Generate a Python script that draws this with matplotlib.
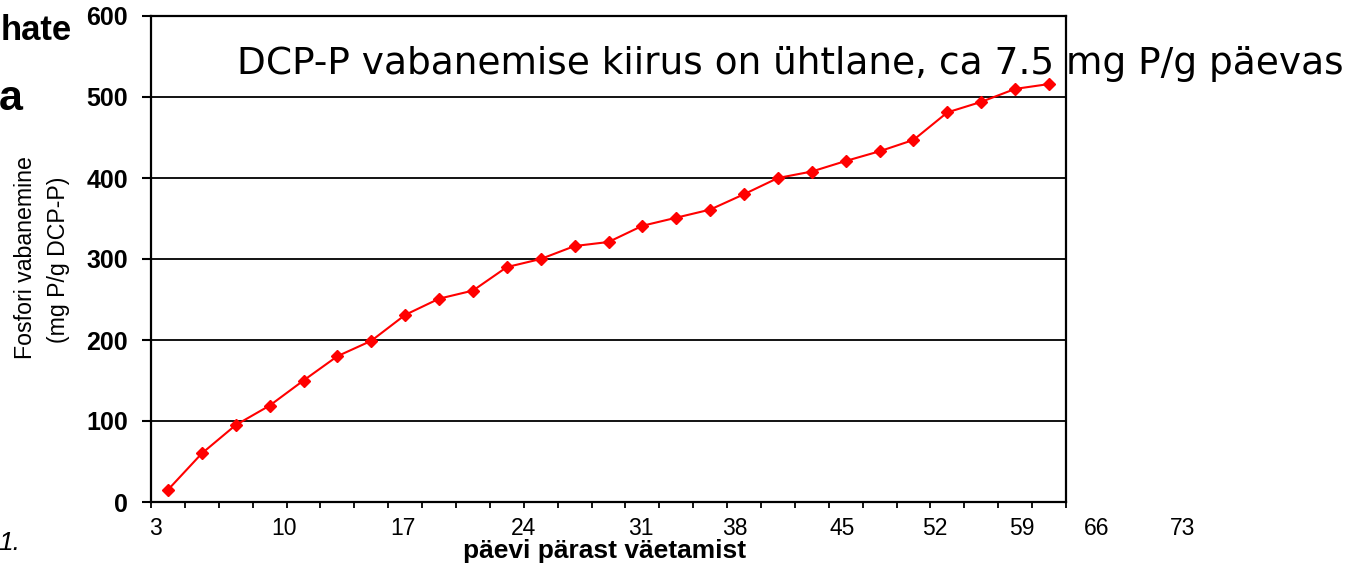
import matplotlib
matplotlib.use("Agg")
import matplotlib.pyplot as plt
import matplotlib.transforms as mtransforms
import numpy as np

# fosfori vabanemine (mg P/g DCP-P), one value per sampling
release = [15, 60, 95, 119, 150, 180, 199, 231, 251, 261,
           290, 300, 316, 321, 341, 351, 361, 380, 400,
           408, 421, 433, 447, 481, 494, 510, 516]
day_labels = ["3", "10", "17", "24", "31", "38", "45", "52", "59", "66", "73"]
y_ticks = [0, 100, 200, 300, 400, 500, 600]

# where the day labels sit, in category units (from the slide layout)
label_pos = [-0.38, 3.43, 6.92, 10.49, 13.95, 16.72, 19.91, 22.63, 25.20, 27.39, 29.93]

W, H = 1357, 567
fig = plt.figure(figsize=(W / 100, H / 100), dpi=100)
ax = fig.add_axes([151 / W, 1 - 502 / H, (1066 - 151) / W, (502 - 16) / H])

x = np.arange(len(release))
ax.plot(x, release, color="#ff0000", lw=1.5, marker="D", ms=6, zorder=3)

ax.set_xlim(-0.5, len(release) - 0.5)
ax.set_ylim(0, 600)
ax.set_yticks(y_ticks)
ax.set_yticklabels([str(v) for v in y_ticks], fontfamily="Liberation Sans",
                   fontweight="bold", fontsize=18)
ax.tick_params(axis="y", direction="out", length=6.5, width=1.5, pad=10)
ax.yaxis.grid(True, color="black", lw=1.3)
ax.set_axisbelow(True)

# tick marks on category boundaries, labels drawn separately
ax.set_xticks(np.arange(-0.5, len(release), 1.0))
ax.set_xticklabels([])
ax.tick_params(axis="x", direction="out", length=4.5, width=1.3)

trans = mtransforms.blended_transform_factory(ax.transData, ax.transAxes)
for pos, lab in zip(label_pos, day_labels):
    ax.text(pos, -0.03, lab, transform=trans, ha="center", va="top",
            fontsize=16.5, fontfamily="Liberation Sans", clip_on=False)

for s in ax.spines.values():
    s.set_linewidth(1.6)
    s.set_color("black")

# axis titles
fig.text(605 / W, 1 - 558 / H, "päevi pärast väetamist", ha="center", va="baseline",
         fontsize=19, fontweight="bold", fontfamily="Liberation Sans")
fig.text(25.5 / W, 1 - 258 / H, "Fosfori vabanemine", rotation=90,
         ha="center", va="center", fontsize=16.7, fontfamily="Liberation Sans")
fig.text(59 / W, 1 - 260 / H, "(mg P/g DCP-P)", rotation=90,
         ha="center", va="center", fontsize=16.7, fontfamily="Liberation Sans")

# headline over the chart
fig.text(237 / W, 1 - 74 / H, "DCP-P vabanemise kiirus on ühtlane, ca 7.5 mg P/g päevas",
         ha="left", va="baseline", fontsize=27, fontfamily="DejaVu Sans")

# bits of slide text cut off at the left edge
fig.text(72 / W, 1 - 40 / H, "hate", ha="right", va="baseline",
         fontsize=25, fontweight="bold", fontfamily="Liberation Sans")
fig.text(23 / W, 1 - 110 / H, "a", ha="right", va="baseline",
         fontsize=31, fontweight="bold", fontfamily="Liberation Sans")
fig.text(20 / W, 1 - 550 / H, "1.", ha="right", va="baseline",
         fontsize=19, fontstyle="italic", fontfamily="Liberation Sans")

fig.savefig("out.png", dpi=100, facecolor="white")
